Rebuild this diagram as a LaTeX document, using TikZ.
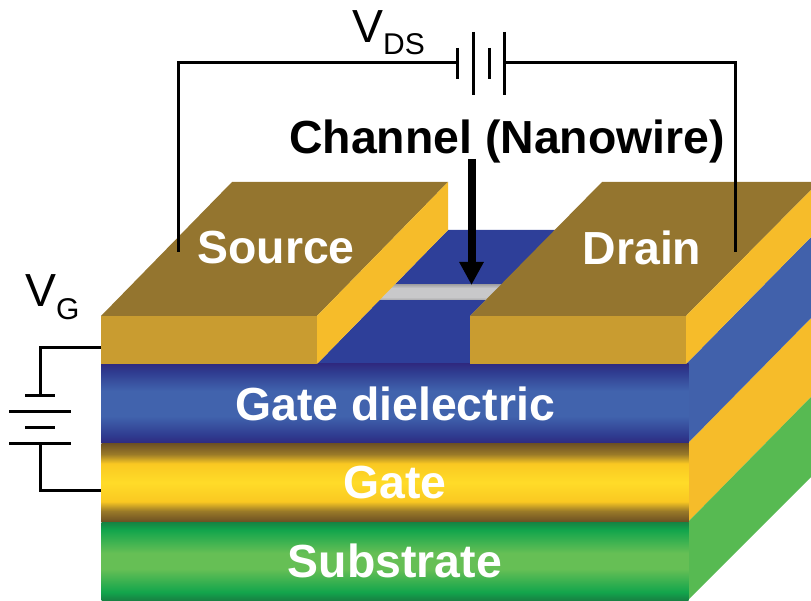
\documentclass[tikz,border=0pt]{standalone}
\usepackage{fontspec}
\setmainfont{Liberation Sans}
\usetikzlibrary{arrows.meta}
\definecolor{padtop}{HTML}{94752F}
\definecolor{padfront}{HTML}{C99C30}
\definecolor{goldside}{HTML}{F6BC2A}
\definecolor{bluetop}{HTML}{2E3F99}
\definecolor{blueside}{HTML}{4161AB}
\definecolor{greenside}{HTML}{57BA52}
\definecolor{bluedark}{HTML}{2F2A80}
\definecolor{bluemid}{HTML}{2F3C90}
\definecolor{bluelight}{HTML}{4163AD}
\definecolor{gatedark}{HTML}{6B4F23}
\definecolor{gatebrown}{HTML}{9A7A28}
\definecolor{gatemid}{HTML}{FAC822}
\definecolor{gatelight}{HTML}{FFDC28}
\definecolor{subdark}{HTML}{178243}
\definecolor{submid}{HTML}{12A54C}
\definecolor{sublight}{HTML}{66BF55}
\definecolor{wiredark}{HTML}{A8A8AA}
\definecolor{wirelight}{HTML}{C8C8CA}
\pgfdeclareverticalshading{dielectricshade}{100bp}{
  color(0bp)=(bluedark); color(25bp)=(bluedark); color(30bp)=(bluemid); color(42bp)=(bluelight);
  color(58bp)=(bluelight); color(70bp)=(bluemid); color(75bp)=(bluedark); color(100bp)=(bluedark)}
\pgfdeclareverticalshading{gateshade}{100bp}{
  color(0bp)=(gatedark); color(25bp)=(gatedark); color(32bp)=(gatebrown); color(38bp)=(gatemid); color(50bp)=(gatelight);
  color(62bp)=(gatemid); color(68bp)=(gatebrown); color(75bp)=(gatedark); color(100bp)=(gatedark)}
\pgfdeclareverticalshading{substrateshade}{100bp}{
  color(0bp)=(subdark); color(25bp)=(subdark); color(30bp)=(submid); color(45bp)=(sublight);
  color(55bp)=(sublight); color(70bp)=(submid); color(75bp)=(subdark); color(100bp)=(subdark)}
\pgfdeclareverticalshading{wireshade}{100bp}{
  color(0bp)=(wiredark); color(25bp)=(wiredark); color(35bp)=(wirelight);
  color(65bp)=(wirelight); color(75bp)=(wiredark); color(100bp)=(wiredark)}
\newcommand{\bigfont}{\fontsize{46.4}{50}\selectfont}
\newcommand{\subfont}{\fontsize{30}{32}\selectfont}
\tikzset{
  layer/.style={shade, inner sep=0pt, outer sep=0pt, minimum width=587pt, text=white, font=\bigfont\bfseries},
  padlabel/.style={inner sep=0pt, text=white, font=\bigfont\bfseries},
  vlabel/.style={inner sep=0pt, anchor=base west, font=\bigfont},
  wire/.style={line width=3pt},
  plate/.style={line width=3pt},
  arr/.style={-{Triangle[length=23pt,width=23pt]}, line width=8pt}
}
\begin{document}
\begin{tikzpicture}[x=1pt,y=-1pt]
\useasboundingbox (0,0) rectangle (811,601);
% side faces
\fill[goldside] (688,443) -- (811,318) -- (811,397) -- (688,522) -- cycle;
\fill[blueside] (686,364) -- (811,237) -- (811,318) -- (688,443) -- cycle;
\fill[greenside] (688,522) -- (811,397) -- (811,477) -- (688,600) -- cycle;
% dielectric top and the nanowire
\fill[bluetop] (317,364) -- (448,230) -- (557,230) -- (470,316) -- (470,364) -- cycle;
\shade[shading=wireshade] (378,285) rectangle (512,300);
% layers
\node[layer, minimum height=79pt, shading=dielectricshade] (dielectric) at (395,403.5) {Gate dielectric};
\node[layer, minimum height=79pt, shading=gateshade] (gate) at (395,482.5) {Gate};
\node[layer, minimum height=78pt, shading=substrateshade] (substrate) at (395,561) {Substrate};
% source
\fill[padtop] (101,316) -- (232,182) -- (448,182) -- (317,316) -- cycle;
\fill[goldside] (317,316) -- (448,182) -- (448,230) -- (317,364) -- cycle;
\fill[padfront] (101,316) rectangle (317,364);
% drain
\fill[padtop] (470,316) -- (602,182) -- (811,182) -- (811,190) -- (686,316) -- cycle;
\fill[goldside] (686,316) -- (811,190) -- (811,237) -- (686,364) -- cycle;
\fill[padfront] (470,316) rectangle (686,364);
\node[padlabel] (source) at (276,248) {Source};
\node[padlabel] (drain) at (642,248) {Drain};
% labels
\node[inner sep=0pt, anchor=base, font=\bigfont\bfseries] (channel) at (507,154) {Channel (Nanowire)};
\node[vlabel] (vds) at (352,43) {V\raisebox{-12pt}{\subfont DS}};
\node[vlabel] (vg) at (25,307) {V\raisebox{-13pt}{\subfont G}};
% arrow to the nanowire
\coordinate (arrowstart) at (471.5,159);
\coordinate (arrowend) at (471.5,285);
\draw[arr] (arrowstart) -- (arrowend);
% drain-source battery
\coordinate (sourcepin) at (178,252);
\coordinate (drainpin) at (735,252);
\coordinate (dsleft) at (457,63);
\coordinate (dsright) at (504,63);
\draw[wire] (sourcepin) |- (dsleft);
\draw[wire] (drainpin) |- (dsright);
\foreach \px in {457,489} \draw[plate] (\px,48) -- (\px,79);
\foreach \px in {473,504} \draw[plate] (\px,32) -- (\px,95);
% gate battery
\coordinate (sourceedge) at (101,348);
\coordinate (gateedge) at (101,490);
\coordinate (gtop) at (40,395);
\coordinate (gbottom) at (40,443);
\draw[wire] (sourceedge) -| (gtop);
\draw[wire] (gateedge) -| (gbottom);
\foreach \py in {395,427} \draw[plate] (25,\py) -- (55,\py);
\foreach \py in {411,443} \draw[plate] (9,\py) -- (71,\py);
\end{tikzpicture}
\end{document}
